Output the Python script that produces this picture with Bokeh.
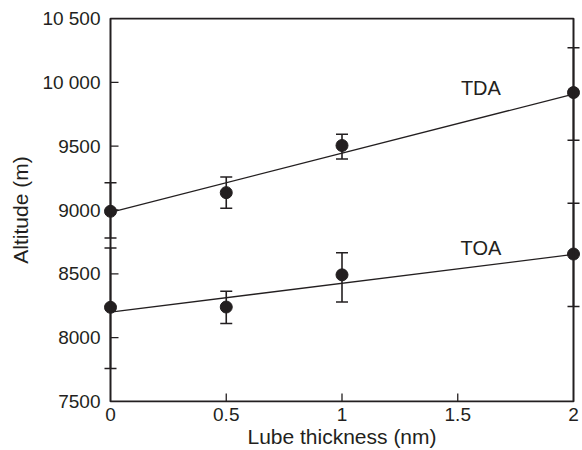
import math
from bokeh.plotting import figure
from bokeh.models import ColumnDataSource, Whisker, TeeHead, FixedTicker, Range1d
from bokeh.core.properties import value
from bokeh.embed import file_html
from bokeh.resources import INLINE

# ---- data ----
thickness = [0, 0.5, 1, 2]
tda = [8990, 9136, 9505, 9920]
tda_upper = [9214, 9259, 9594, 10270]
tda_lower = [8780, 9013, 9400, 9547]
toa = [8238, 8240, 8492, 8655]
toa_upper = [8702, 8364, 8665, 9053]
toa_lower = [7759, 8110, 8280, 8244]

fit_x = [0, 2]
tda_fit = [8982, 9908]
toa_fit = [8200, 8652]

label_x = [1.6, 1.6]
label_y = [9956, 8706]
label_text = ["TDA", "TOA"]

x_ticks = [0, 0.5, 1, 1.5, 2]
x_tick_labels = ["0", "0.5", "1", "1.5", "2"]
y_ticks = [7500, 8000, 8500, 9000, 9500, 10000, 10500]
y_tick_labels = ["7500", "8000", "8500", "9000", "9500", "10 000", "10 500"]

INK = "#231f20"
FONT = "Liberation Sans"

# ---- layout (pixels inside the figure) ----
W, H = 582, 450
X0_PX, X2_PX = 110, 573      # where x=0 and x=2 fall
YTOP_PX, YBOT_PX = 18, 401   # where 10500 and 7500 fall
PAD_L, PAD_R, PAD_Y = 7, 7, 1

xmin, xmax = x_ticks[0], x_ticks[-1]
ymin, ymax = y_ticks[0], y_ticks[-1]
xs = (X2_PX - X0_PX) / (xmax - xmin)
ys = (YBOT_PX - YTOP_PX) / (ymax - ymin)

p = figure(width=W, height=H, output_backend="svg", toolbar_location=None,
           x_range=Range1d(xmin - PAD_L / xs, xmax + PAD_R / xs),
           y_range=Range1d(ymin - PAD_Y / ys, ymax + PAD_Y / ys),
           min_border_left=X0_PX - PAD_L, min_border_right=W - X2_PX - PAD_R,
           min_border_top=YTOP_PX - PAD_Y, min_border_bottom=H - YBOT_PX - PAD_Y)
p.grid.visible = False
p.outline_line_color = None
p.background_fill_color = "white"
p.border_fill_color = "white"

for ax in (p.xaxis[0], p.yaxis[0]):
    ax.axis_line_color = None
    ax.major_tick_line_color = None
    ax.major_tick_in = 0
    ax.major_tick_out = 0
    ax.minor_tick_line_color = None
    ax.major_label_text_font = FONT
    ax.major_label_text_font_size = "19px"
    ax.major_label_text_color = INK
    ax.axis_label_text_font = FONT
    ax.axis_label_text_font_size = "21px"
    ax.axis_label_text_font_style = "normal"
    ax.axis_label_text_color = INK

p.xaxis.ticker = FixedTicker(ticks=x_ticks)
p.xaxis.major_label_overrides = dict(zip(x_ticks, x_tick_labels))
p.yaxis.ticker = FixedTicker(ticks=y_ticks)
p.yaxis.major_label_overrides = dict(zip(y_ticks, y_tick_labels))
p.xaxis.axis_label = "Lube thickness (nm)"
p.yaxis.axis_label = "Altitude (m)"
p.xaxis.major_label_standoff = 5
p.xaxis.axis_label_standoff = 1
p.yaxis.major_label_standoff = 3
p.yaxis.axis_label_standoff = 7

# frame
p.quad(left=[xmin], right=[xmax], bottom=[ymin], top=[ymax],
       fill_color=None, line_color=INK, line_width=2)
# inward ticks
p.ray(x=[xmin] * len(y_ticks[1:-1]), y=y_ticks[1:-1], length=8, length_units="screen",
      angle=0, line_color=INK, line_width=1.3)
p.ray(x=x_ticks[1:-1], y=[ymin] * len(x_ticks[1:-1]), length=8, length_units="screen",
      angle=math.pi / 2, line_color=INK, line_width=1.3)

# fit lines
p.line(fit_x, tda_fit, line_color=INK, line_width=1.3)
p.line(fit_x, toa_fit, line_color=INK, line_width=1.3)

# error bars and points
for vals, up, lo in ((tda, tda_upper, tda_lower), (toa, toa_upper, toa_lower)):
    src = ColumnDataSource(dict(x=thickness, y=vals, upper=up, lower=lo))
    w = Whisker(source=src, base="x", upper="upper", lower="lower",
                line_color=INK, line_width=1.6, level="glyph",
                upper_head=TeeHead(size=12, line_color=INK, line_width=1.5),
                lower_head=TeeHead(size=12, line_color=INK, line_width=1.5))
    p.add_layout(w)
    p.scatter("x", "y", source=src, size=12, fill_color=INK, line_color=INK)

# series labels
p.text(x=label_x, y=label_y, text=label_text, text_font=value(FONT),
       text_font_size="20px", text_color=INK, text_align="center",
       text_baseline="middle")

open("out.html", "w").write(file_html(p, INLINE))
